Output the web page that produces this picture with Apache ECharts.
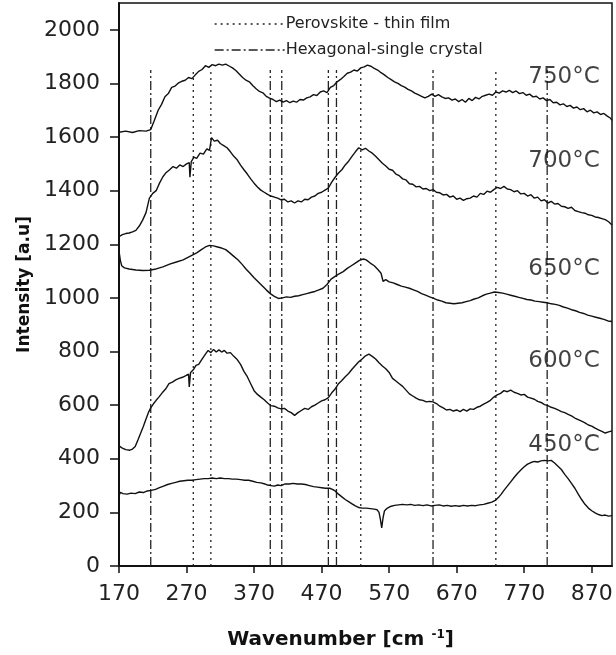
<!DOCTYPE html>
<html>
<head>
<meta charset="utf-8">
<script src="https://cdn.jsdelivr.net/npm/echarts@6/dist/echarts.min.js"></script>
<style>html,body{margin:0;padding:0;background:#fff}#c{width:616px;height:655px}</style>
</head>
<body>
<div id="c"></div>
<script>
// ---- data ----
const xTicks = [170, 270, 370, 470, 570, 670, 770, 870];
const yTicks = [0, 200, 400, 600, 800, 1000, 1200, 1400, 1600, 1800, 2000];

const perovskiteLines = [280, 306, 528, 728];
const hexagonalLines = [217, 394, 411, 480, 492, 635, 804];
const refLineTop = 1850;

const tempNames = ['750°C', '700°C', '650°C', '600°C', '450°C'];
const tempLabelX = [829, 829, 829, 829, 829];
const tempLabelY = [1825, 1509, 1108, 766, 450];

const s750 = [[170,1618],[180,1622],[190,1617],[200,1624],[210,1622],[217,1628],[222,1660],[228,1700],[233,1722],[238,1750],[243,1762],[248,1785],[253,1790],[258,1802],[263,1808],[268,1812],[273,1822],[278,1818],[283,1832],[288,1845],[293,1852],[298,1866],[303,1860],[308,1870],[313,1866],[318,1872],[323,1868],[328,1872],[333,1865],[338,1858],[343,1848],[348,1835],[353,1822],[358,1812],[363,1806],[368,1792],[373,1780],[378,1770],[383,1765],[388,1752],[393,1745],[398,1740],[403,1732],[408,1738],[413,1730],[418,1736],[423,1728],[428,1734],[433,1730],[438,1740],[443,1738],[448,1746],[453,1750],[458,1758],[463,1755],[468,1768],[473,1772],[478,1766],[483,1785],[488,1792],[493,1806],[498,1815],[503,1826],[508,1838],[513,1842],[518,1850],[523,1846],[528,1858],[533,1862],[538,1868],[543,1864],[548,1856],[553,1850],[558,1840],[563,1832],[568,1822],[573,1814],[578,1806],[583,1800],[588,1792],[593,1786],[598,1778],[603,1772],[608,1764],[613,1758],[618,1752],[623,1746],[628,1752],[633,1760],[638,1752],[643,1758],[648,1750],[653,1744],[658,1746],[663,1738],[668,1742],[673,1732],[678,1740],[683,1730],[688,1744],[693,1736],[698,1748],[703,1742],[708,1752],[713,1756],[718,1760],[723,1756],[728,1768],[733,1764],[738,1772],[743,1768],[748,1774],[753,1766],[758,1772],[763,1762],[768,1766],[773,1756],[778,1760],[783,1750],[788,1752],[793,1742],[798,1746],[803,1736],[808,1740],[813,1728],[818,1730],[823,1720],[828,1724],[833,1714],[838,1718],[843,1708],[848,1712],[853,1702],[858,1706],[863,1694],[868,1700],[873,1690],[878,1694],[883,1684],[888,1688],[893,1678],[898,1670],[900,1662]];

const s700 = [[170,1228],[175,1236],[180,1240],[185,1242],[190,1246],[195,1252],[200,1268],[205,1290],[210,1318],[215,1372],[220,1390],[225,1400],[230,1428],[235,1452],[240,1468],[245,1478],[250,1490],[255,1484],[260,1496],[265,1490],[270,1500],[274,1505],[275,1450],[277,1508],[281,1525],[285,1520],[290,1540],[295,1536],[300,1556],[304,1550],[307,1598],[311,1585],[316,1588],[320,1576],[325,1568],[330,1560],[335,1545],[340,1528],[345,1515],[350,1495],[355,1478],[360,1462],[365,1444],[370,1428],[375,1414],[380,1402],[385,1394],[390,1386],[395,1380],[400,1376],[405,1372],[410,1366],[415,1368],[420,1358],[425,1362],[430,1354],[435,1362],[440,1358],[445,1368],[450,1366],[455,1376],[460,1380],[465,1390],[470,1394],[475,1402],[480,1410],[485,1432],[490,1450],[495,1466],[500,1478],[505,1496],[510,1510],[515,1528],[520,1545],[525,1560],[530,1552],[535,1558],[540,1548],[545,1540],[550,1528],[555,1515],[560,1502],[565,1492],[570,1480],[575,1476],[580,1462],[585,1456],[590,1444],[595,1440],[600,1426],[605,1424],[610,1414],[615,1416],[620,1406],[625,1408],[630,1400],[635,1404],[640,1394],[645,1392],[650,1384],[655,1386],[660,1376],[665,1380],[670,1368],[675,1372],[680,1364],[685,1370],[690,1372],[695,1380],[700,1376],[705,1390],[710,1386],[715,1398],[720,1394],[725,1404],[730,1412],[735,1408],[740,1416],[745,1406],[750,1404],[755,1396],[760,1400],[765,1388],[770,1390],[775,1380],[780,1385],[785,1372],[790,1376],[795,1362],[800,1366],[805,1354],[810,1360],[815,1350],[820,1352],[825,1342],[830,1340],[835,1334],[840,1338],[845,1326],[850,1322],[855,1318],[860,1316],[865,1310],[870,1308],[875,1302],[880,1300],[885,1296],[890,1292],[895,1284],[900,1272]];

const s650 = [[170,1175],[172,1140],[174,1120],[178,1112],[185,1108],[195,1104],[205,1102],[215,1103],[225,1108],[235,1116],[245,1126],[255,1134],[265,1142],[275,1155],[285,1168],[292,1180],[298,1190],[304,1196],[310,1194],[316,1190],[322,1186],[328,1180],[334,1168],[340,1155],[346,1142],[352,1126],[358,1108],[364,1092],[370,1075],[376,1060],[382,1045],[388,1030],[394,1016],[400,1006],[406,998],[412,1000],[418,1004],[424,1002],[430,1006],[436,1008],[442,1012],[448,1016],[454,1020],[460,1024],[466,1030],[472,1036],[478,1050],[484,1070],[490,1080],[496,1090],[502,1098],[508,1110],[514,1120],[520,1130],[526,1140],[532,1145],[536,1142],[542,1130],[548,1120],[554,1104],[558,1092],[561,1062],[565,1068],[570,1060],[576,1056],[582,1050],[588,1044],[594,1040],[600,1036],[606,1030],[612,1024],[618,1016],[624,1010],[630,1004],[636,998],[642,992],[648,988],[654,982],[660,980],[666,978],[672,980],[678,982],[684,986],[690,990],[696,996],[702,1000],[708,1008],[714,1014],[720,1018],[726,1022],[732,1020],[738,1018],[744,1014],[750,1010],[756,1006],[762,1002],[768,998],[774,994],[780,992],[786,988],[792,986],[798,984],[804,982],[810,978],[816,976],[822,972],[828,966],[834,962],[840,956],[846,952],[852,946],[858,942],[864,936],[870,932],[876,928],[882,924],[888,920],[894,914],[900,912]];

const s600 = [[170,448],[175,440],[180,434],[186,432],[190,436],[194,446],[198,470],[202,495],[206,520],[210,548],[214,575],[217,590],[221,605],[225,618],[229,630],[234,646],[239,660],[244,680],[249,686],[254,694],[259,700],[264,704],[269,710],[273,716],[274,668],[276,722],[280,732],[284,748],[288,752],[293,772],[298,790],[302,804],[306,796],[310,808],[314,798],[318,806],[322,798],[326,804],[330,794],[335,796],[340,782],[345,770],[350,752],[355,726],[360,706],[365,680],[370,654],[375,640],[380,630],[385,620],[390,608],[395,598],[400,596],[405,590],[410,586],[415,588],[420,578],[425,572],[430,562],[435,572],[440,580],[445,588],[450,584],[455,594],[460,600],[465,608],[470,616],[475,620],[480,628],[485,646],[490,660],[495,680],[500,692],[505,706],[510,718],[515,734],[520,748],[525,762],[530,772],[535,784],[540,790],[545,782],[550,772],[555,758],[560,746],[565,736],[570,722],[575,700],[580,690],[585,680],[590,670],[595,656],[600,642],[605,634],[610,626],[615,620],[620,618],[625,612],[630,614],[635,612],[640,606],[645,596],[650,590],[655,582],[660,584],[665,578],[670,582],[675,576],[680,584],[685,578],[690,586],[695,584],[700,592],[705,596],[710,604],[715,610],[720,618],[725,630],[730,638],[735,644],[740,654],[745,650],[750,656],[755,648],[760,644],[765,638],[770,640],[775,630],[780,626],[785,622],[790,614],[795,610],[800,602],[805,598],[810,592],[815,588],[820,582],[825,576],[830,572],[835,566],[840,560],[845,552],[850,546],[855,540],[860,534],[865,526],[870,522],[875,514],[880,508],[885,502],[890,496],[895,500],[900,504]];

const s450 = [[170,262],[172,275],[176,270],[182,268],[188,272],[194,270],[200,276],[206,274],[212,280],[218,282],[224,286],[230,292],[236,298],[242,304],[248,308],[254,312],[260,316],[266,318],[272,320],[278,320],[284,322],[290,324],[296,326],[302,326],[308,328],[314,326],[320,328],[326,326],[332,326],[338,324],[344,324],[350,322],[356,320],[362,320],[368,316],[374,312],[380,310],[386,306],[390,302],[395,300],[400,298],[405,302],[410,300],[416,306],[422,306],[428,308],[434,306],[440,306],[446,304],[452,300],[458,296],[464,294],[470,292],[476,290],[482,290],[486,286],[490,280],[495,268],[500,258],[505,248],[510,240],[515,232],[520,224],[525,218],[530,216],[536,216],[542,214],[548,212],[552,210],[555,200],[557,175],[559,142],[561,180],[563,205],[567,215],[572,222],[578,226],[584,228],[590,230],[596,228],[602,230],[608,226],[614,228],[620,225],[626,228],[632,224],[638,226],[644,228],[650,224],[656,226],[662,223],[668,225],[674,223],[680,226],[686,224],[692,226],[698,225],[704,228],[710,230],[716,234],[722,238],[728,246],[732,256],[736,268],[740,282],[745,298],[750,314],[755,330],[760,345],[765,358],[770,370],[775,380],[780,386],[785,390],[790,388],[795,392],[800,394],[805,392],[810,394],[815,384],[820,372],[825,360],[830,342],[835,326],[840,308],[845,290],[850,268],[855,248],[860,230],[865,216],[870,206],[875,198],[880,192],[885,188],[890,190],[895,186],[900,188]];

const spectra = [s750, s700, s650, s600, s450];

// ---- chart ----
const chart = echarts.init(document.getElementById('c'), null, {renderer: 'canvas'});
const FONT = 'DejaVu Sans';
const INK = '#111';
const series = [];

spectra.forEach((d, i) => {
  series.push({
    type: 'line', name: tempNames[i], data: d, symbol: 'none', silent: true,
    itemStyle: {color: INK}, lineStyle: {color: INK, width: 1.4}, z: 3
  });
});
perovskiteLines.forEach(x => {
  series.push({
    type: 'line', name: 'Perovskite - thin film', data: [[x, 0], [x, refLineTop]],
    symbol: 'none', silent: true, itemStyle: {color: '#222'},
    lineStyle: {color: '#222', width: 1.3, type: [2, 4]}, z: 2
  });
});
hexagonalLines.forEach(x => {
  series.push({
    type: 'line', name: 'Hexagonal-single crystal', data: [[x, 0], [x, refLineTop]],
    symbol: 'none', silent: true, itemStyle: {color: '#222'},
    lineStyle: {color: '#222', width: 1.3, type: [9, 3, 2, 3]}, z: 2
  });
});
series.push({
  type: 'scatter', symbolSize: 0, silent: true, itemStyle: {color: 'transparent'},
  data: tempNames.map((n, i) => ({name: n, value: [tempLabelX[i], tempLabelY[i]]})),
  label: {show: true, position: 'inside', formatter: p => p.name, fontFamily: FONT, fontSize: 23, color: INK, textBorderWidth: 0},
  z: 4
});

chart.setOption({
  animation: false,
  backgroundColor: '#fff',
  grid: {left: 119, right: 4, top: 3, bottom: 87, show: true, borderColor: INK, borderWidth: 1.5, backgroundColor: 'transparent'},
  legend: {
    data: ['Perovskite - thin film', 'Hexagonal-single crystal'],
    orient: 'vertical', left: 209, top: 11, itemWidth: 70, itemHeight: 14, itemGap: 10,
    itemStyle: {opacity: 0},
    lineStyle: {color: '#222', width: 1.3},
    textStyle: {fontFamily: FONT, fontSize: 16, color: '#222', padding: [0, 0, 0, -4]},
    selectedMode: false
  },
  xAxis: {
    type: 'value', min: 170, max: 900, interval: 100,
    name: 'Wavenumber [cm {sup|-1}]', nameLocation: 'middle', nameGap: 63,
    nameTextStyle: {fontFamily: FONT, fontWeight: 'bold', fontSize: 20, color: INK, padding: [0, 50, 0, 0],
      rich: {sup: {fontFamily: FONT, fontWeight: 'bold', fontSize: 12, verticalAlign: 'top', padding: [0, 0, 10, 0]}}},
    axisLine: {lineStyle: {color: INK, width: 2}},
    axisTick: {show: true, length: 7, inside: false, lineStyle: {color: INK, width: 1.5}, customValues: xTicks},
    axisLabel: {fontFamily: FONT, fontSize: 22, color: '#222', margin: 17, customValues: xTicks, formatter: v => String(v)},
    splitLine: {show: false}
  },
  yAxis: {
    type: 'value', min: 0, max: 2100, interval: 200,
    name: 'Intensity [a.u]', nameLocation: 'middle', nameGap: 84, nameRotate: 90,
    nameTextStyle: {fontFamily: FONT, fontWeight: 'bold', fontSize: 17, color: INK},
    axisLine: {show: true, lineStyle: {color: INK, width: 2}},
    axisTick: {show: true, length: 9, inside: false, lineStyle: {color: INK, width: 1.5}, customValues: yTicks},
    axisLabel: {fontFamily: FONT, fontSize: 22, color: '#222', margin: 19, customValues: yTicks, formatter: v => String(v)},
    splitLine: {show: false}
  },
  series: series
});
</script>
</body>
</html>
